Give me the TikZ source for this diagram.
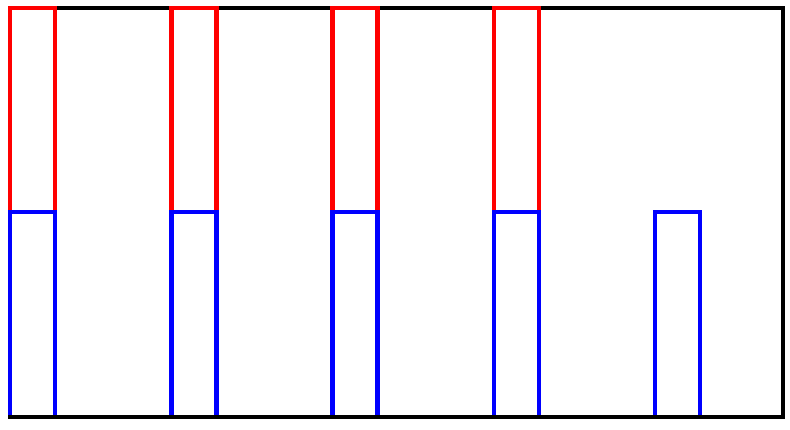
\documentclass[tikz,border=0pt]{standalone}
\begin{document}
\begin{tikzpicture}[x=1pt,y=-1pt,
  frame/.style={draw=black,line width=4.5pt,line join=miter},
  redbar/.style={draw=red,line width=4.5pt,line join=miter},
  bluebar/.style={draw=blue,line width=4.5pt,line join=miter}]
\useasboundingbox (0,0) rectangle (790,429);
\draw[frame] (10,8) -- (783,8) -- (783,417) -- (10,417);
\foreach \x in {10,171.25,332.5,493.75} {
  \draw[redbar] (\x,212) -- (\x,8) -- (\x+45,8) -- (\x+45,212);
}
\foreach \x in {10,171.25,332.5,493.75,655} {
  \draw[bluebar] (\x,417) -- (\x,212) -- (\x+45,212) -- (\x+45,417);
}
\draw[frame,line cap=butt] (8,417) -- (783,417);
\end{tikzpicture}
\end{document}
